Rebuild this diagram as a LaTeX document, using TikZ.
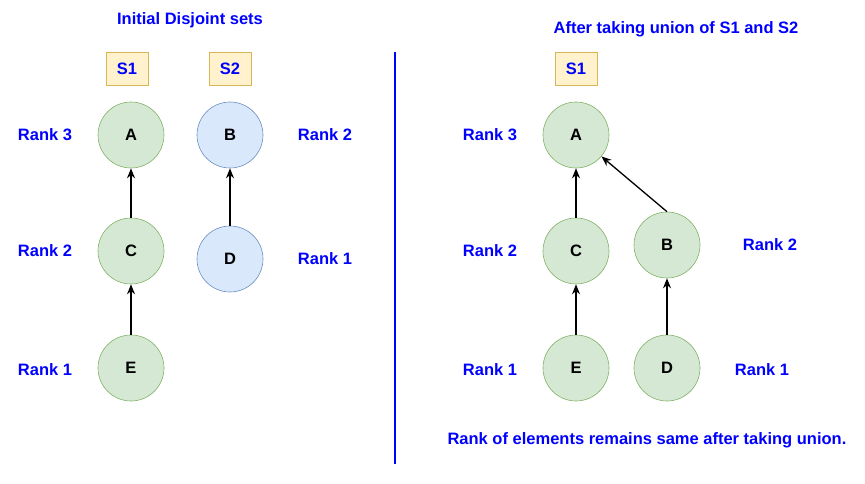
\documentclass[tikz,border=0pt]{standalone}
\usepackage{fontspec}
\setmainfont{Liberation Sans}
\usetikzlibrary{positioning,arrows.meta}
\definecolor{ink}{HTML}{000000}
\definecolor{lbl}{HTML}{0000FF}
\definecolor{grfill}{HTML}{D5E8D4}
\definecolor{grline}{HTML}{82B366}
\definecolor{blfill}{HTML}{DAE8FC}
\definecolor{blline}{HTML}{6C8EBF}
\definecolor{ylfill}{HTML}{FFF2CC}
\definecolor{ylline}{HTML}{D6B656}
\tikzset{
  elem/.style={circle, draw=#1line, fill=#1fill, line width=0.6pt, minimum size=66pt,
    inner sep=0pt, text=ink, font=\fontsize{16.5}{16.5}\selectfont\bfseries},
  elem/.default=gr,
  tag/.style={draw=ylline, fill=ylfill, line width=0.6pt, minimum width=42pt, minimum height=33pt,
    inner sep=0pt, text=lbl, font=\fontsize{16.5}{16.5}\selectfont\bfseries},
  rk/.style={text=lbl, font=\fontsize{16.5}{16.5}\selectfont\bfseries, inner sep=0pt},
  up/.style={-{Stealth[length=10pt,width=8pt]}, line width=1.3pt, color=ink},
}
\begin{document}
\begin{tikzpicture}[x=1pt,y=-1pt]
  \useasboundingbox (0,0) rectangle (865,484);
  % initial sets
  \node[rk] (ttl1) at (190,20) {Initial Disjoint sets};
  \node[tag] (s1) at (127,69) {S1};
  \node[tag] (s2) at (230,69) {S2};
  \node[elem] (a) at (131,135) {A};
  \node[elem] (c) at (131,251) {C};
  \node[elem] (e) at (131,368) {E};
  \node[elem=bl] (b) at (230,135) {B};
  \node[elem=bl] (d) at (230,259) {D};
  \node[rk] (ra3) at (45,135) {Rank 3};
  \node[rk] (rc2) at (45,251) {Rank 2};
  \node[rk] (re1) at (45,370) {Rank 1};
  \node[rk] (rb2) at (325,135) {Rank 2};
  \node[rk] (rd1) at (325,259) {Rank 1};
  \draw[up] (c) -- (a);
  \draw[up] (e) -- (c);
  \draw[up] (d) -- (b);
  % divider
  \coordinate (top) at (395,52);
  \coordinate (bot) at (395,464);
  \draw[lbl, line width=1.2pt] (top) -- (bot);
  % after union
  \node[rk] (ttl2) at (676,29) {After taking union of S1 and S2};
  \node[tag] (u1) at (576,69) {S1};
  \node[elem] (ua) at (576,135) {A};
  \node[elem] (uc) at (576,251) {C};
  \node[elem] (ue) at (576,368) {E};
  \node[elem] (ub) at (667,245) {B};
  \node[elem] (ud) at (667,368) {D};
  \node[rk] (ura3) at (490,135) {Rank 3};
  \node[rk] (urc2) at (490,251) {Rank 2};
  \node[rk] (ure1) at (490,370) {Rank 1};
  \node[rk] (urb2) at (770,245) {Rank 2};
  \node[rk] (urd1) at (762,370) {Rank 1};
  \draw[up] (uc) -- (ua);
  \draw[up] (ue) -- (uc);
  \draw[up] (ud) -- (ub);
  \draw[up] (ub.north) -- (ua);
  \node[rk] (note) at (647,440) {Rank of elements remains same after taking union.};
\end{tikzpicture}
\end{document}
